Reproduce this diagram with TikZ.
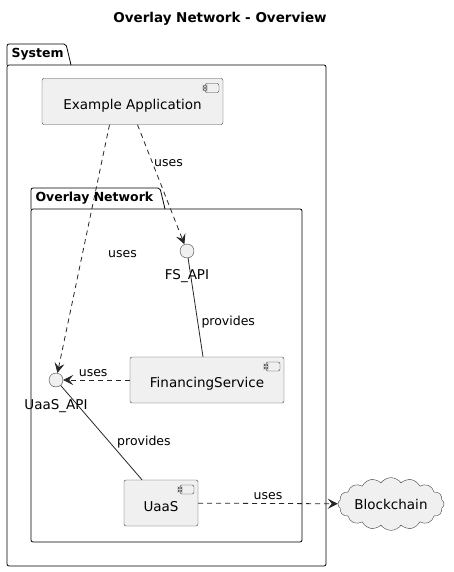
\documentclass[tikz,border=0pt]{standalone}
\usepackage{fontspec}
\setmainfont{DejaVu Sans}
\usetikzlibrary{arrows.meta,shapes.symbols}

\tikzset{
  every node/.style={font=\fontsize{12.5}{15}\selectfont},
  comp/.style={draw=black!75, fill=black!6, rounded corners=2pt, inner sep=0pt,
    minimum height=46pt, text height=18pt, font=\fontsize{13.5}{16}\selectfont,
    path picture={
      \draw[black!75, fill=black!6] ([xshift=-18pt,yshift=-5pt]path picture bounding box.north east)
        rectangle ++(14pt,-9pt);
      \draw[black!75, fill=black!6] ([xshift=-20pt,yshift=-7pt]path picture bounding box.north east)
        rectangle ++(4pt,-2pt);
      \draw[black!75, fill=black!6] ([xshift=-20pt,yshift=-10pt]path picture bounding box.north east)
        rectangle ++(4pt,-2pt);
    }},
  iface/.style={circle, draw=black!75, fill=black!6, minimum size=14pt, inner sep=0pt},
  pkg/.style={draw=black, thick, rounded corners=2pt},
  pkglabel/.style={anchor=west, font=\fontsize{12.5}{15}\selectfont\bfseries},
  uses/.style={draw=black!85, line width=0.8pt, dash pattern=on 5pt off 4pt,
    -{Stealth[length=10pt,width=10pt,inset=4pt]}},
  provides/.style={draw=black!85, line width=0.8pt}
}

\begin{document}
\begin{tikzpicture}[x=1pt,y=-1pt]
  \useasboundingbox (0,0) rectangle (454,572);

  \node[font=\fontsize{13.5}{16}\selectfont\bfseries] (title) at (220,19) {Overlay Network - Overview};

  % packages
  \draw[pkg] (7,65) rectangle (326,566);
  \draw[pkg] (7,65) -- (7,44) -- (66,44) -- (71,65);
  \node[pkglabel] (system) at (8,54) {System};

  \draw[pkg] (31,209) rectangle (302,542);
  \draw[pkg] (31,209) -- (31,188) -- (160,188) -- (165,209);
  \node[pkglabel] (overlay) at (32,198) {Overlay Network};

  % components
  \node[comp, minimum width=181pt] (app) at (132.5,101.5) {Example Application};
  \node[comp, minimum width=154pt] (fin) at (207,380) {FinancingService};
  \node[comp, minimum width=74pt] (uaas) at (161,503) {UaaS};
  \node[cloud, cloud puffs=16, cloud puff arc=110, aspect=2.4, draw=black!75, fill=black!6,
        minimum width=106pt, minimum height=46pt, inner sep=0pt,
        font=\fontsize{13.5}{16}\selectfont] (chain) at (391,504) {Blockchain};

  % interfaces
  \node[iface, label={[label distance=8pt, font=\fontsize{13.5}{16}\selectfont]below:FS\_API}] (fsapi) at (187,251) {};
  \node[iface, label={[label distance=9pt, font=\fontsize{13.5}{16}\selectfont]below:UaaS\_API}] (uaasapi) at (56,380) {};

  \path
  ([xshift=5pt]app.south) edge[uses] node[pos=0.32, right=-2pt] {uses} (fsapi)
  ([xshift=-23pt]app.south) edge[uses] node[pos=0.52, right=22pt] {uses} (uaasapi)
  (fin) edge[uses] node[above, pos=0.55] {uses} (uaasapi)
  (fsapi) edge[provides] node[pos=0.65, right] {provides} ([xshift=-4pt]fin.north)
  (uaasapi) edge[provides] node[pos=0.6, right=4pt] {provides} ([xshift=-19pt]uaas.north)
  (uaas) edge[uses] node[above, pos=0.5] {uses} (chain)
              ;
\end{tikzpicture}
\end{document}
